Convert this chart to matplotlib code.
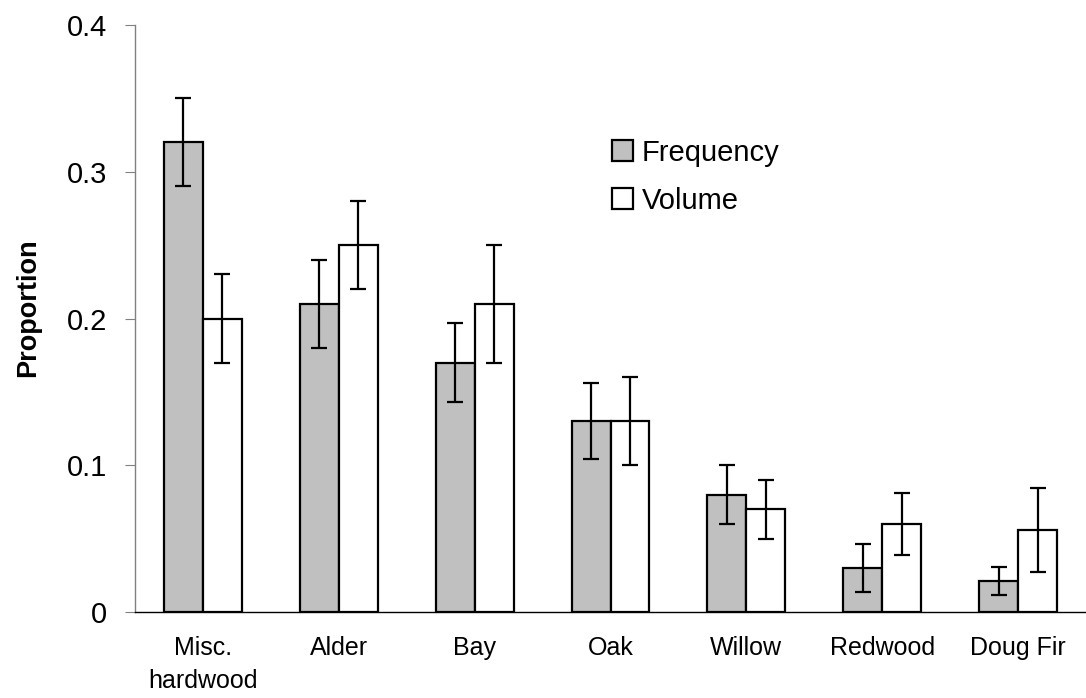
import matplotlib
matplotlib.use("Agg")
import matplotlib.pyplot as plt
import numpy as np
from matplotlib.ticker import FuncFormatter

plt.rcParams['font.family'] = ['Liberation Sans', 'DejaVu Sans']

# Tree species and the proportion of cavities by frequency and by volume
categories = ['Misc.\nhardwood', 'Alder', 'Bay', 'Oak', 'Willow', 'Redwood', 'Doug Fir']
frequency = [0.32, 0.21, 0.17, 0.13, 0.08, 0.03, 0.021]
frequency_err = [0.03, 0.03, 0.027, 0.026, 0.02, 0.0165, 0.0095]
volume = [0.20, 0.25, 0.21, 0.13, 0.07, 0.06, 0.056]
volume_err = [0.03, 0.03, 0.04, 0.03, 0.02, 0.021, 0.0285]
y_ticks = [0, 0.1, 0.2, 0.3, 0.4]

W, H, DPI = 1086, 698, 100
fig = plt.figure(figsize=(W / DPI, H / DPI), dpi=DPI)
ax = fig.add_axes([135 / W, 1 - 612 / H, (W - 135) / W, (612 - 25) / H])

x = np.arange(len(categories))
width = 0.287
err_kw = dict(ecolor='black', elinewidth=1.6, capsize=5.8, capthick=1.6)

ax.bar(x - width / 2, frequency, width, yerr=frequency_err, color='#C0C0C0',
       edgecolor='black', linewidth=1.6, label='Frequency', error_kw=err_kw, zorder=2)
ax.bar(x + width / 2, volume, width, yerr=volume_err, color='white',
       edgecolor='black', linewidth=1.6, label='Volume', error_kw=err_kw, zorder=2)

ax.set_xlim(-0.5, len(categories) - 0.5)
ax.set_ylim(0, 0.4)
ax.set_yticks(y_ticks)
ax.yaxis.set_major_formatter(FuncFormatter(lambda v, p: '0' if v == 0 else f'{v:.1f}'))
ax.set_xticks(x)
ax.set_xticklabels(categories, fontsize=18, linespacing=1.5)

for side in ('top', 'right'):
    ax.spines[side].set_visible(False)
ax.spines['left'].set_color('#808080')
ax.spines['left'].set_linewidth(1.0)
ax.spines['bottom'].set_color('black')
ax.spines['bottom'].set_linewidth(1.0)

ax.tick_params(axis='y', direction='out', length=7.2, width=0.8, color='#808080',
               labelsize=21, pad=13)
ax.tick_params(axis='x', length=0, pad=17)
ax.yaxis.get_major_ticks()[0].tick1line.set_color('black')

ax.set_ylabel('Proportion', fontsize=19.5, fontweight='bold', va='center')
ax.yaxis.set_label_coords(-0.1125, 0.518)

ax.legend(loc='upper left', bbox_to_anchor=(612 / W, 1 - 139 / H),
          bbox_transform=fig.transFigure, frameon=False, fontsize=21,
          handlelength=0.72, handleheight=0.72, handletextpad=0.3,
          labelspacing=0.67, borderpad=0, borderaxespad=0)

fig.savefig('out.png', dpi=DPI)
